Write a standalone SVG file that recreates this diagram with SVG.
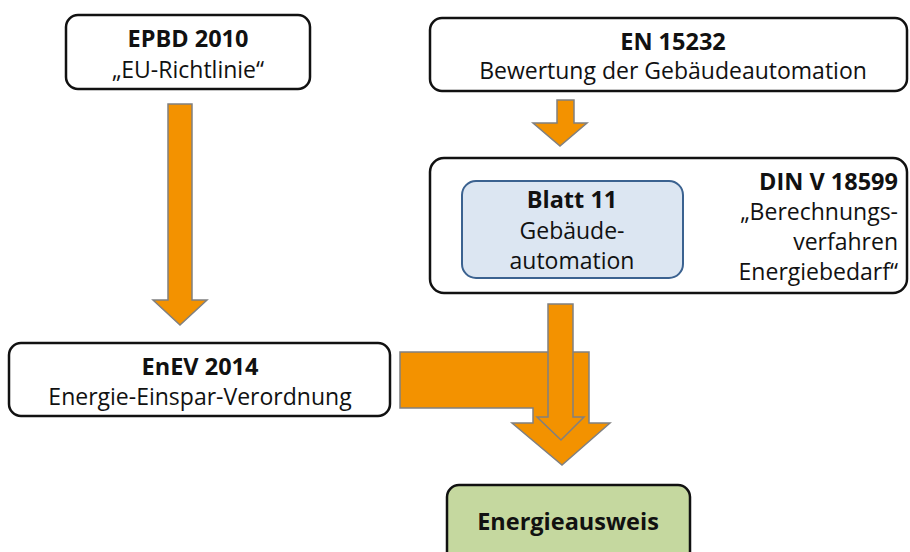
<svg xmlns="http://www.w3.org/2000/svg" width="910" height="552" viewBox="0 0 910 552">
<style>
.box{fill:#fff;stroke:#111;stroke-width:2.5}
.arr{fill:#f39200;stroke:#808080;stroke-width:1.5;stroke-linejoin:miter}
text{font-family:"Open Sans","Noto Sans","DejaVu Sans",sans-serif;font-size:23px;fill:#111}
.b{font-weight:bold;font-size:23.5px}
.m{text-anchor:middle}
.r{text-anchor:end}
</style>
<rect width="910" height="552" fill="#fff"/>
<g id="connectors">
<path class="arr" d="M168,104 L192,104 L192,300 L207,300 L180,325 L153,300 L168,300 Z"/>
<path class="arr" d="M557,100 L574,100 L574,123 L587,123 L560,146 L533,123 L557,123 Z"/>
<path class="arr" d="M400,352 L589,352 L589,423 L610,423 L562,465 L512,423 L533,423 L533,408 L400,408 Z"/>
<path class="arr" d="M548,304 L573,304 L573,417 L584,417 L561,440 L537,417 L548,417 Z"/>
</g>
<g id="epbd">
<rect class="box" x="66" y="15" width="244" height="74" rx="12"/>
<text class="b m" x="188" y="47">EPBD 2010</text>
<text class="m" x="188" y="78">„EU-Richtlinie“</text>
</g>
<g id="en15232">
<rect class="box" x="430" y="18" width="477" height="73" rx="12"/>
<text class="b m" x="673" y="50">EN 15232</text>
<text class="m" x="673" y="79">Bewertung der Gebäudeautomation</text>
</g>
<g id="din">
<rect class="box" x="430" y="158" width="477" height="135" rx="14"/>
<text class="b r" x="898" y="190">DIN V 18599</text>
<text class="r" x="898" y="220">„Berechnungs-</text>
<text class="r" x="898" y="250">verfahren</text>
<text class="r" x="898" y="280">Energiebedarf“</text>
</g>
<g id="blatt11">
<rect x="462" y="181" width="221" height="97" rx="14" fill="#dce6f2" stroke="#3b6290" stroke-width="2"/>
<text class="b m" x="572" y="208">Blatt 11</text>
<text class="m" x="572" y="239">Gebäude-</text>
<text class="m" x="572" y="269">automation</text>
</g>
<g id="enev">
<rect class="box" x="9" y="343" width="381" height="73" rx="12"/>
<text class="b m" x="200" y="375">EnEV 2014</text>
<text class="m" x="200" y="405">Energie-Einspar-Verordnung</text>
</g>
<g id="energieausweis">
<rect x="447" y="485" width="243" height="80" rx="12" fill="#c5d89f" stroke="#111" stroke-width="2.5"/>
<text class="b m" x="568" y="530">Energieausweis</text>
</g>
</svg>
